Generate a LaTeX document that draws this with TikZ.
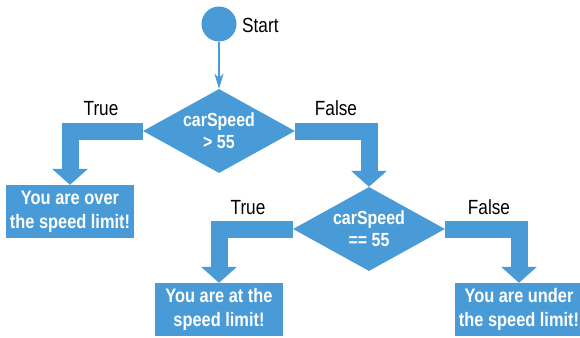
\documentclass[tikz,border=0pt]{standalone}
\usepackage{fontspec}
\newfontfamily\condfont[FakeStretch=0.84]{Liberation Sans}
\usetikzlibrary{arrows.meta, shapes.geometric}
\definecolor{flowblue}{RGB}{72,155,214}

\begin{document}
\begin{tikzpicture}[x=1pt, y=-1pt,
    startdot/.style={circle, fill=flowblue, minimum size=35pt, inner sep=0pt},
    test/.style={diamond, fill=flowblue, text=white, aspect=1.8, inner sep=0pt,
      minimum width=152pt, minimum height=84pt, align=center,
      font=\condfont\bfseries\fontsize{19}{22}\selectfont},
    msgbox/.style={rectangle, fill=flowblue, text=white, minimum width=128pt,
      minimum height=53pt, inner sep=0pt, align=center,
      font=\condfont\bfseries\fontsize{19.5}{24}\selectfont},
    branch/.style={font=\condfont\fontsize{20.5}{24}\selectfont, inner sep=0pt, anchor=base},
    fat/.style={draw=flowblue, line width=17pt, -{Triangle[width=35pt, length=16pt]}},
    slim/.style={draw=flowblue, line width=1.5pt, -{Stealth[width=9pt, length=15pt, inset=4pt]}}]
  \useasboundingbox (0,0) rectangle (580,337);

  % shapes
  \node[startdot] (start) at (219,24) {};
  \node[branch, anchor=base west] (startlbl) at (242,33) {Start};
  \node[test] (over) at (219,131) {carSpeed\\> 55};
  \node[test] (equal) at (369,229) {carSpeed\\== 55};
  \node[msgbox] (msgover) at (70,211.5) {You are over\\the speed limit!};
  \node[msgbox] (msgat) at (219,309.5) {You are at the\\speed limit!};
  \node[msgbox] (msgunder) at (519,309.5) {You are under\\the speed limit!};

  % branch labels
  \node[branch] (true1) at (101,115) {True};
  \node[branch] (false1) at (336,115) {False};
  \node[branch] (true2) at (248,214) {True};
  \node[branch] (false2) at (489,214) {False};

  % flow
  \draw[slim] (start) -- (over.north);
  \draw[fat] (over.west) -| (msgover.north);
  \draw[fat] (over.east) -| (equal.north);
  \draw[fat] (equal.west) -| (msgat.north);
  \draw[fat] (equal.east) -| (msgunder.north);
\end{tikzpicture}
\end{document}
